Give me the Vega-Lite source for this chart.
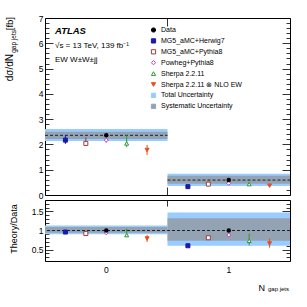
{
  "$schema": "https://vega.github.io/schema/vega-lite/v6.json",
  "autosize": {"type": "none"},
  "padding": {"left": 45, "top": 18, "right": 262, "bottom": 289},
  "background": "white",
  "spacing": 5,
  "bounds": "flush",
  "config": {
    "view": {"stroke": "black", "strokeWidth": 1},
    "font": "Liberation Sans",
    "axis": {"domain": false, "grid": false, "labelFont": "Liberation Sans", "labelFontSize": 8.5, "labelColor": "black", "tickColor": "black", "tickWidth": 0.8},
    "legend": {"orient": "none", "legendX": 105, "legendY": 8.5, "title": null, "labelFontSize": 7, "labelFont": "Liberation Sans", "labelColor": "black", "symbolStrokeWidth": 1, "rowPadding": 1.9, "labelOffset": 4, "symbolSize": 18, "labelLimit": 200, "padding": 0}
  },
  "datasets": {
    "bands": [
      {"bin": "0", "data": 2.36, "tot_lo": 2.14, "tot_hi": 2.61, "sys_lo": 2.21, "sys_hi": 2.5, "rtot_lo": 0.9, "rtot_hi": 1.13, "rsys_lo": 0.94, "rsys_hi": 1.09},
      {"bin": "1", "data": 0.59, "tot_lo": 0.36, "tot_hi": 0.84, "sys_lo": 0.44, "sys_hi": 0.76, "rtot_lo": 0.6, "rtot_hi": 1.47, "rsys_lo": 0.73, "rsys_hi": 1.32}
    ],
    "preds": [
      {"model": "MG5_aMC+Herwig7", "bin": "0", "y": 2.17, "lo": 2.02, "hi": 2.37, "r": 0.96, "rlo": 0.93, "rhi": 0.99},
      {"model": "MG5_aMC+Pythia8", "bin": "0", "y": 2.04, "lo": 1.94, "hi": 2.28, "r": 0.92, "rlo": 0.91, "rhi": 0.93},
      {"model": "Powheg+Pythia8", "bin": "0", "y": 2.17, "lo": 2.07, "hi": 2.24, "r": 0.94, "rlo": 0.91, "rhi": 0.98},
      {"model": "Sherpa 2.2.11", "bin": "0", "y": 2.04, "lo": 1.89, "hi": 2.37, "r": 0.88, "rlo": 0.83, "rhi": 1.05},
      {"model": "Sherpa 2.2.11 ⊗ NLO EW", "bin": "0", "y": 1.78, "lo": 1.58, "hi": 1.98, "r": 0.79, "rlo": 0.7, "rhi": 0.88},
      {"model": "MG5_aMC+Herwig7", "bin": "1", "y": 0.33, "lo": 0.31, "hi": 0.35, "r": 0.6, "rlo": 0.58, "rhi": 0.62},
      {"model": "MG5_aMC+Pythia8", "bin": "1", "y": 0.43, "lo": 0.41, "hi": 0.46, "r": 0.81, "rlo": 0.79, "rhi": 0.83},
      {"model": "Powheg+Pythia8", "bin": "1", "y": 0.46, "lo": 0.44, "hi": 0.49, "r": 0.88, "rlo": 0.83, "rhi": 0.93},
      {"model": "Sherpa 2.2.11", "bin": "1", "y": 0.43, "lo": 0.37, "hi": 0.5, "r": 0.73, "rlo": 0.61, "rhi": 0.92},
      {"model": "Sherpa 2.2.11 ⊗ NLO EW", "bin": "1", "y": 0.37, "lo": 0.32, "hi": 0.43, "r": 0.66, "rlo": 0.55, "rhi": 0.79}
    ]
  },
  "vconcat": [
    {
      "width": 245,
      "height": 177,
      "layer": [
        {
          "data": {"name": "bands"},
          "mark": {"type": "rect", "fill": "#99ccff"},
          "encoding": {
            "x": {"field": "bin", "type": "nominal", "title": null, "bandPosition": 0, "scale": {"domain": ["0", "1"], "paddingInner": 0, "paddingOuter": 0},
              "axis": {"orient": "bottom", "values": ["1"], "bandPosition": 0, "labels": false, "tickSize": -8}},
            "x2": {"field": "bin", "bandPosition": 1},
            "y": {"field": "tot_lo", "type": "quantitative", "title": null, "scale": {"domain": [0, 7], "nice": false, "zero": false},
              "axis": {"orient": "left", "values": [0,0.2,0.4,0.6,0.8,1,1.2,1.4,1.6,1.8,2,2.2,2.4,2.6,2.8,3,3.2,3.4,3.6,3.8,4,4.2,4.4,4.6,4.8,5,5.2,5.4,5.6,5.8,6,6.2,6.4,6.6,6.8,7],
                "format": "~g",
                "labelExpr": "datum.value % 1 === 0 ? datum.label : ''",
                "tickSize": {"condition": {"test": "datum.value % 1 === 0", "value": -8}, "value": -4},
                "labelPadding": 10}},
            "y2": {"field": "tot_hi"}
          }
        },
        {
          "data": {"name": "bands"},
          "mark": {"type": "rect", "fill": "#94a3b3"},
          "encoding": {
            "x": {"field": "bin", "type": "nominal", "title": null, "bandPosition": 0,
              "axis": {"orient": "top", "values": ["1"], "bandPosition": 0, "labels": false, "tickSize": -8}},
            "x2": {"field": "bin", "bandPosition": 1},
            "y": {"field": "sys_lo", "type": "quantitative", "title": null,
              "axis": {"orient": "right", "values": [0,0.2,0.4,0.6,0.8,1,1.2,1.4,1.6,1.8,2,2.2,2.4,2.6,2.8,3,3.2,3.4,3.6,3.8,4,4.2,4.4,4.6,4.8,5,5.2,5.4,5.6,5.8,6,6.2,6.4,6.6,6.8,7],
                "labels": false,
                "tickSize": {"condition": {"test": "datum.value % 1 === 0", "value": -8}, "value": -4}}},
            "y2": {"field": "sys_hi"}
          }
        },
        {
          "data": {"name": "bands"},
          "mark": {"type": "rule", "stroke": "black", "strokeWidth": 0.8, "strokeDash": [3, 2]},
          "encoding": {
            "x": {"field": "bin", "type": "nominal", "bandPosition": 0, "axis": null},
            "x2": {"field": "bin", "bandPosition": 1},
            "y": {"field": "data", "type": "quantitative", "axis": null}
          }
        },
        {
          "data": {"name": "preds"},
          "mark": {"type": "rule", "strokeWidth": 1},
          "encoding": {
            "x": {"field": "bin", "type": "nominal", "axis": null},
            "xOffset": {"field": "model", "type": "nominal", "scale": {"type": "point", "domain": ["MG5_aMC+Herwig7", "MG5_aMC+Pythia8", "Powheg+Pythia8", "Sherpa 2.2.11", "Sherpa 2.2.11 ⊗ NLO EW"], "padding": 1}},
            "y": {"field": "lo", "type": "quantitative", "axis": null},
            "y2": {"field": "hi"},
            "stroke": {"field": "model", "type": "nominal", "title": null}
          }
        },
        {
          "data": {"name": "preds"},
          "mark": {"type": "point", "strokeWidth": 1, "size": 16, "opacity": 1, "fillOpacity": 1},
          "encoding": {
            "x": {"field": "bin", "type": "nominal", "axis": null},
            "xOffset": {"field": "model", "type": "nominal"},
            "y": {"field": "y", "type": "quantitative", "axis": null},
            "stroke": {"field": "model", "type": "nominal", "title": null,
              "scale": {"domain": ["Data", "MG5_aMC+Herwig7", "MG5_aMC+Pythia8", "Powheg+Pythia8", "Sherpa 2.2.11", "Sherpa 2.2.11 ⊗ NLO EW", "Total Uncertainty", "Systematic Uncertainty"],
                "range": ["black", "#1a1aa6", "#a03c3c", "#c040c0", "#2e9a2e", "#e8501e", "#99ccff", "#94a3b3"]},
              "legend": {"encode": {"symbols": {"update": {"size": {"signal": "indexof(['Total Uncertainty','Systematic Uncertainty'], datum.value) >= 0 ? 60 : 16"}}}}}},
            "fill": {"field": "model", "type": "nominal", "title": null,
              "scale": {"domain": ["Data", "MG5_aMC+Herwig7", "MG5_aMC+Pythia8", "Powheg+Pythia8", "Sherpa 2.2.11", "Sherpa 2.2.11 ⊗ NLO EW", "Total Uncertainty", "Systematic Uncertainty"],
                "range": ["black", "#1a1aa6", "white", "white", "white", "#e8501e", "#99ccff", "#94a3b3"]}},
            "shape": {"field": "model", "type": "nominal", "title": null,
              "scale": {"domain": ["Data", "MG5_aMC+Herwig7", "MG5_aMC+Pythia8", "Powheg+Pythia8", "Sherpa 2.2.11", "Sherpa 2.2.11 ⊗ NLO EW", "Total Uncertainty", "Systematic Uncertainty"],
                "range": ["circle", "square", "square", "diamond", "triangle-up", "triangle-down", "square", "square"]}}
          }
        },
        {
          "data": {"name": "bands"},
          "mark": {"type": "point", "filled": true, "shape": "circle", "size": 20, "color": "black", "opacity": 1},
          "encoding": {
            "x": {"field": "bin", "type": "nominal", "axis": null},
            "y": {"field": "data", "type": "quantitative", "axis": null}
          }
        },
        {
          "data": {"values": [{}]},
          "mark": {"type": "text", "text": "ATLAS", "align": "left", "baseline": "alphabetic", "fontSize": 9.5, "fontWeight": "bold", "fontStyle": "italic", "fill": "black", "dx": 10},
          "encoding": {
            "x": {"datum": "0", "type": "nominal", "bandPosition": 0, "axis": null},
            "y": {"datum": 6.35, "type": "quantitative", "axis": null}
          }
        },
        {
          "data": {"values": [{}]},
          "mark": {"type": "text", "text": "√s = 13 TeV, 139 fb⁻¹", "align": "left", "baseline": "alphabetic", "fontSize": 8, "fill": "black", "dx": 10},
          "encoding": {
            "x": {"datum": "0", "type": "nominal", "bandPosition": 0, "axis": null},
            "y": {"datum": 5.8, "type": "quantitative", "axis": null}
          }
        },
        {
          "data": {"values": [{}]},
          "mark": {"type": "text", "text": "EW W±W±jj", "align": "left", "baseline": "alphabetic", "fontSize": 8, "fill": "black", "dx": 10},
          "encoding": {
            "x": {"datum": "0", "type": "nominal", "bandPosition": 0, "axis": null},
            "y": {"datum": 5.25, "type": "quantitative", "axis": null}
          }
        },
        {
          "data": {"values": [{}]},
          "mark": {"type": "text", "text": "[fb]", "angle": 270, "align": "right", "baseline": "alphabetic", "fontSize": 9.5, "fill": "black", "dx": 1, "dy": -32},
          "encoding": {
            "x": {"datum": "0", "type": "nominal", "bandPosition": 0, "axis": null},
            "y": {"datum": 7, "type": "quantitative", "axis": null}
          }
        },
        {
          "data": {"values": [{}]},
          "mark": {"type": "text", "text": "gap jets", "angle": 270, "align": "right", "baseline": "alphabetic", "fontSize": 6.5, "fill": "black", "dx": -12, "dy": -29},
          "encoding": {
            "x": {"datum": "0", "type": "nominal", "bandPosition": 0, "axis": null},
            "y": {"datum": 7, "type": "quantitative", "axis": null}
          }
        },
        {
          "data": {"values": [{}]},
          "mark": {"type": "text", "text": "dσ/dN", "angle": 270, "align": "right", "baseline": "alphabetic", "fontSize": 10, "fill": "black", "dx": -36, "dy": -32},
          "encoding": {
            "x": {"datum": "0", "type": "nominal", "bandPosition": 0, "axis": null},
            "y": {"datum": 7, "type": "quantitative", "axis": null}
          }
        }
      ],
      "resolve": {"axis": {"x": "independent", "y": "independent"}}
    },
    {
      "width": 245,
      "height": 61,
      "layer": [
        {
          "data": {"name": "bands"},
          "mark": {"type": "rect", "fill": "#99ccff"},
          "encoding": {
            "x": {"field": "bin", "type": "nominal", "title": null, "bandPosition": 0, "scale": {"domain": ["0", "1"], "paddingInner": 0, "paddingOuter": 0},
              "axis": {"orient": "bottom", "ticks": false, "labelPadding": 4, "labelAngle": 0}},
            "x2": {"field": "bin", "bandPosition": 1},
            "y": {"field": "rtot_lo", "type": "quantitative", "title": null, "scale": {"domain": [0.2, 1.8], "nice": false, "zero": false},
              "axis": {"orient": "left", "values": [0.2,0.3,0.4,0.5,0.6,0.7,0.8,0.9,1,1.1,1.2,1.3,1.4,1.5,1.6,1.7,1.8],
                "format": "~g",
                "labelExpr": "abs(datum.value*2 - round(datum.value*2)) < 0.001 ? datum.label : ''",
                "tickSize": {"condition": {"test": "abs(datum.value*2 - round(datum.value*2)) < 0.001", "value": -8}, "value": -4},
                "labelPadding": 10}},
            "y2": {"field": "rtot_hi"}
          }
        },
        {
          "data": {"name": "bands"},
          "mark": {"type": "rect", "fill": "#94a3b3"},
          "encoding": {
            "x": {"field": "bin", "type": "nominal", "title": null, "bandPosition": 0,
              "axis": {"orient": "top", "values": ["1"], "bandPosition": 0, "labels": false, "tickSize": -6}},
            "x2": {"field": "bin", "bandPosition": 1},
            "y": {"field": "rsys_lo", "type": "quantitative", "title": null,
              "axis": {"orient": "right", "values": [0.2,0.3,0.4,0.5,0.6,0.7,0.8,0.9,1,1.1,1.2,1.3,1.4,1.5,1.6,1.7,1.8],
                "labels": false,
                "tickSize": {"condition": {"test": "abs(datum.value*2 - round(datum.value*2)) < 0.001", "value": -8}, "value": -4}}},
            "y2": {"field": "rsys_hi"}
          }
        },
        {
          "mark": {"type": "rule", "stroke": "black", "strokeWidth": 0.8, "strokeDash": [3, 2]},
          "data": {"values": [{}]},
          "encoding": {
            "y": {"datum": 1, "type": "quantitative", "axis": null}
          }
        },
        {
          "data": {"name": "preds"},
          "mark": {"type": "rule", "strokeWidth": 1},
          "encoding": {
            "x": {"field": "bin", "type": "nominal", "axis": null},
            "xOffset": {"field": "model", "type": "nominal", "scale": {"type": "point", "domain": ["MG5_aMC+Herwig7", "MG5_aMC+Pythia8", "Powheg+Pythia8", "Sherpa 2.2.11", "Sherpa 2.2.11 ⊗ NLO EW"], "padding": 1}},
            "y": {"field": "rlo", "type": "quantitative", "axis": null},
            "y2": {"field": "rhi"},
            "stroke": {"field": "model", "type": "nominal", "title": null}
          }
        },
        {
          "data": {"name": "preds"},
          "mark": {"type": "point", "strokeWidth": 1, "size": 16, "opacity": 1, "fillOpacity": 1},
          "encoding": {
            "x": {"field": "bin", "type": "nominal", "axis": null},
            "xOffset": {"field": "model", "type": "nominal"},
            "y": {"field": "r", "type": "quantitative", "axis": null},
            "stroke": {"field": "model", "type": "nominal", "title": null},
            "fill": {"field": "model", "type": "nominal", "title": null},
            "shape": {"field": "model", "type": "nominal", "title": null}
          }
        },
        {
          "data": {"name": "bands"},
          "mark": {"type": "point", "filled": true, "shape": "circle", "size": 20, "color": "black", "opacity": 1},
          "encoding": {
            "x": {"field": "bin", "type": "nominal", "axis": null},
            "y": {"datum": 1, "type": "quantitative", "axis": null}
          }
        },
        {
          "data": {"values": [{}]},
          "mark": {"type": "text", "text": "Theory/Data", "angle": 270, "align": "center", "baseline": "alphabetic", "fontSize": 9, "fill": "black", "dx": 1.5, "dy": -28},
          "encoding": {
            "x": {"datum": "0", "type": "nominal", "bandPosition": 0, "axis": null},
            "y": {"datum": 1, "type": "quantitative", "axis": null}
          }
        },
        {
          "data": {"values": [{}]},
          "mark": {"type": "text", "text": "gap jets", "align": "right", "baseline": "alphabetic", "fontSize": 6, "fill": "black", "dx": -1, "dy": 30},
          "encoding": {
            "x": {"datum": "1", "type": "nominal", "bandPosition": 1, "axis": null},
            "y": {"datum": 0.2, "type": "quantitative", "axis": null}
          }
        },
        {
          "data": {"values": [{}]},
          "mark": {"type": "text", "text": "N", "align": "right", "baseline": "alphabetic", "fontSize": 9, "fill": "black", "dx": -25, "dy": 29.5},
          "encoding": {
            "x": {"datum": "1", "type": "nominal", "bandPosition": 1, "axis": null},
            "y": {"datum": 0.2, "type": "quantitative", "axis": null}
          }
        }
      ],
      "resolve": {"axis": {"x": "independent", "y": "independent"}}
    }
  ]
}
